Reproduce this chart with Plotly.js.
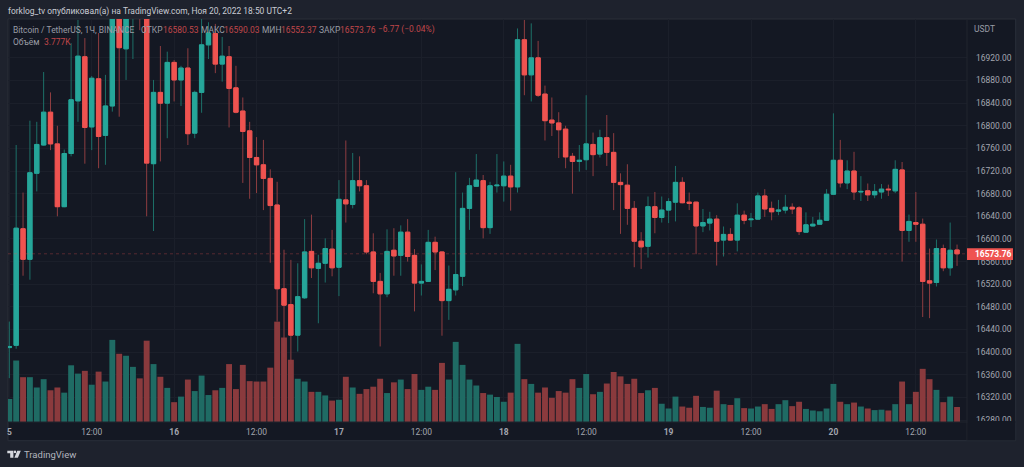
<!DOCTYPE html>
<html><head><meta charset="utf-8">
<script src="https://cdn.plot.ly/plotly-3.0.1.min.js"></script>
<style>html,body{margin:0;padding:0;background:#1e222d;overflow:hidden}#c{width:1024px;height:467px}</style>
</head><body><div id="c"></div>
<script>
const open=[16408,16412,16618,16564,16716,16766,16824,16768,16657,16751,
16844,16922,16798,16883,16783,16835,17000,16936,17010,17040,
17030,16733,16859,16840,16912,16881,16902,16787,16859,16943,
16963,16909,16922,16867,16826,16791,16744,16731,16707,16660,
16512,16484,16430,16496,16578,16548,16557,16582,16550,16669,
16661,16703,16694,16577,16525,16503,16580,16571,16612,16571,
16522,16525,16594,16577,16491,16510,16534,16654,16693,16703,
16620,16694,16694,16711,16692,16952,16890,16920,16856,16810,
16805,16794,16746,16737,16740,16767,16750,16779,16753,16700,
16695,16654,16596,16587,16657,16638,16651,16665,16700,16665,
16665,16623,16628,16635,16598,16608,16598,16642,16634,16635,
16676,16654,16649,16651,16656,16655,16612,16623,16626,16633,
16679,16739,16699,16720,16683,16685,16678,16683,16688,16685,
16722,16615,16629,16626,16526,16523,16583,16549,16580.53];
const close=[16410,16619,16564,16717,16767,16824,16768,16657,16751,16846,
16923,16797,16884,16781,16835,17000,16938,17000,17040,17020,
16734,16859,16840,16912,16881,16902,16786,16859,16943,16964,
16909,16923,16866,16824,16790,16744,16731,16707,16659,16512,
16483,16430,16498,16577,16549,16557,16583,16549,16670,16662,
16703,16694,16577,16525,16503,16578,16570,16612,16569,16522,
16525,16594,16577,16491,16511,16537,16654,16694,16704,16620,
16694,16695,16711,16692,16952,16890,16920,16854,16809,16805,
16793,16745,16737,16739,16768,16749,16779,16753,16700,16696,
16654,16596,16586,16657,16638,16651,16666,16700,16664,16663,
16623,16629,16635,16596,16608,16598,16642,16633,16635,16676,
16653,16648,16651,16656,16653,16613,16625,16626,16633,16679,
16739,16699,16720,16683,16684,16678,16684,16688,16687,16723,
16615,16631,16626,16525,16522,16583,16549,16580,16573.76];
const high=[16454,16766,16682,16809,16807,16895,16859,16800,16758,16946,
16987,16955,16888,16964,16890,17010,17020,17020,17060,17060,
17060,16881,16941,16931,16916,16906,16937,16862,16990,16983,
16980,16957,16941,16906,16850,16807,16780,16775,16723,16701,
16581,16563,16557,16635,16643,16572,16601,16616,16704,16774,
16752,16746,16704,16610,16540,16617,16619,16624,16635,16582,
16555,16616,16604,16578,16553,16718,16682,16708,16750,16713,
16701,16750,16737,16731,16972,16987,16981,16950,16871,16850,
16824,16800,16752,16766,16854,16788,16793,16819,16787,16716,
16732,16667,16612,16675,16683,16675,16672,16729,16709,16682,
16666,16653,16648,16642,16622,16619,16663,16650,16646,16682,
16688,16666,16669,16678,16663,16658,16647,16639,16647,16688,
16822,16775,16739,16754,16711,16698,16697,16697,16696,16739,
16736,16643,16683,16636,16583,16599,16590,16629,16590.03];
const low=[16354,16406,16535,16528,16684,16765,16757,16640,16656,16746,
16807,16733,16757,16725,16731,16825,16816,16881,16918,16969,
16640,16614,16737,16778,16843,16835,16766,16778,16823,16918,
16893,16878,16797,16822,16699,16671,16681,16651,16558,16454,
16390,16379,16401,16494,16531,16451,16523,16534,16499,16629,
16654,16684,16573,16504,16410,16497,16535,16535,16560,16472,
16500,16524,16545,16429,16457,16500,16517,16616,16692,16601,
16609,16682,16666,16650,16682,16854,16843,16851,16774,16782,
16743,16725,16680,16719,16722,16711,16744,16729,16651,16609,
16625,16550,16547,16567,16610,16629,16628,16631,16663,16651,
16573,16612,16615,16553,16569,16597,16578,16626,16621,16634,
16639,16633,16642,16645,16644,16607,16611,16622,16625,16632,
16678,16691,16688,16669,16667,16667,16672,16671,16676,16681,
16560,16595,16595,16462,16460,16516,16543,16535,16552.37];
const volumeK=[5.8,15.5,11.3,11.3,8.7,10.8,8.0,8.7,7.4,14.3,
12.2,12.9,9.4,12.7,10.2,20.7,17.2,16.7,13.9,11.0,
20.5,14.6,11.4,8.6,5.0,6.4,10.7,7.8,11.7,6.8,
8.0,8.6,14.6,8.3,14.4,10.3,10.2,10.2,13.7,25.3,
21.3,15.7,10.9,10.2,7.6,7.6,6.7,5.4,5.6,11.4,
8.7,7.1,8.3,8.9,10.9,7.3,10.0,10.7,8.3,12.1,
8.1,8.9,8.1,14.9,10.7,20.2,14.4,10.7,9.2,7.3,
6.9,6.3,5.1,7.4,19.7,10.8,9.6,7.4,8.7,6.1,
7.8,7.4,10.8,8.6,12.1,7.0,7.6,9.7,12.6,11.5,
9.6,10.9,7.3,8.0,8.6,4.6,3.4,6.4,3.9,3.6,
6.6,3.8,3.6,7.9,4.5,4.3,6.0,3.5,3.4,3.9,
4.5,3.3,4.5,5.5,4.0,5.1,3.3,2.9,2.7,3.4,
9.6,5.1,4.5,4.9,3.9,3.4,3.0,3.1,2.9,4.5,
10.2,4.5,7.6,13.4,10.8,8.1,5.0,6.4,3.777];
const xTickHours=[0,12,24,36,48,60,72,84,96,108,120,132];
const xTickLabels=["<b>5</b>","12:00","<b>16</b>","12:00","<b>17</b>","12:00","<b>18</b>","12:00","<b>19</b>","12:00","<b>20</b>","12:00"];
const priceTicks=[16280,16320,16360,16400,16440,16480,16520,16560,16600,16640,16680,16720,16760,16800,16840,16880,16920];
const lastPrice=16573.76;

const UP="#26a69a",DOWN="#ef5350",UPW="#1d7068",DOWNW="#8e3d40",UPV="#1f6b64",DOWNV="#8a3a3d";
const PANE="#141823",BG="#1e222d",FONT="Roboto, 'Open Sans', sans-serif",SIZE=8.45;
const hours=open.map((_,i)=>i);
const L=8,R=967.3,T=19,B=422.3;
const px=x=>(x-L)/(R-L), py=y=>(B-y)/(B-T);
function txt(x,y,text,color,size){return {xref:'paper',yref:'paper',x:px(x),y:py(y),xanchor:'left',yanchor:'middle',
  text,showarrow:false,borderpad:0,borderwidth:0,font:{family:FONT,size:size||SIZE,color}};}
function rect(x0,y0,x1,y1,fill,layer,line){return {type:'rect',xref:'paper',yref:'paper',x0:px(x0),x1:px(x1),y0:py(y0),y1:py(y1),
  fillcolor:fill,layer:layer||'below',line:line||{width:0}};}
function poly(pts,fill){return {type:'path',xref:'paper',yref:'paper',layer:'above',fillcolor:fill,line:{width:0},
  path:'M'+pts.map(p=>px(p[0])+','+py(p[1])).join('L')+'Z'};}

const volTrace={type:'bar',x:hours,y:volumeK,yaxis:'y',hoverinfo:'skip',showlegend:false,
  marker:{color:open.map((o,i)=>close[i]>=o?UPV:DOWNV),line:{width:0}}};
const wicks={type:'candlestick',x:hours,open,high,low,close,yaxis:'y2',showlegend:false,hoverinfo:'skip',whiskerwidth:0,
  increasing:{line:{color:UPW,width:1},fillcolor:UPW},decreasing:{line:{color:DOWNW,width:1},fillcolor:DOWNW}};
const bodies={type:'candlestick',x:hours,open,close,yaxis:'y2',showlegend:false,hoverinfo:'skip',whiskerwidth:0,
  high:open.map((o,i)=>Math.max(o,close[i])),low:open.map((o,i)=>Math.min(o,close[i])),
  increasing:{line:{color:UP,width:1},fillcolor:UP},decreasing:{line:{color:DOWN,width:1},fillcolor:DOWN}};

const gray="#9a9da6",red="#c0474a",LOGO="#d5d7dd";
const annotations=[
 txt(8,11,"forklog_tv опубликовал(а) на TradingView.com, Ноя 20, 2022 18:50 UTC+2","#c9ccd4"),
 txt(13,30,"Bitcoin / TetherUS, 1Ч, BINANCE",gray),
 txt(141,30,"ОТКР",gray),txt(163.5,30,"16580.53",red),
 txt(201,30,"МАКС",gray),txt(224,30,"16590.03",red),
 txt(262,30,"МИН",gray),txt(281,30,"16552.37",red),
 txt(319,30,"ЗАКР",gray),txt(340.5,30,"16573.76",red),
 txt(378,30,"−6.77 (−0.04%)",red),
 txt(13,42,"Объём",gray),txt(44,42,"3.777K",red),
 txt(974,29,"USDT",gray),
 txt(975.5,254.3,"<b>16573.76</b>","#ffffff"),
 txt(24,455,"TradingView","#b2b5be",9.5)
];
const shapes=[
 rect(8,19,1016,441,PANE,'below',{color:'#2a2e39',width:1}),
 {type:'line',xref:'paper',yref:'y2',x0:0,x1:1,y0:lastPrice,y1:lastPrice,layer:'above',line:{color:'rgba(239,83,80,0.3)',width:1,dash:'dot'}},
 {type:'line',xref:'paper',yref:'paper',x0:1,x1:1,y0:py(441),y1:1,layer:'above',line:{color:'#20242f',width:1}},
 {type:'line',xref:'paper',yref:'paper',x0:0,x1:px(1016),y0:0,y1:0,layer:'above',line:{color:'#20242f',width:1}},
 rect(968,421.2,1015.5,440.5,PANE,'above'),
 rect(967.3,248.3,1013.3,260.2,DOWN,'above'),
 poly([[7.3,451],[13.4,451],[13.4,458.2],[10.2,458.2],[10.2,453.6],[7.3,453.6]],LOGO),
 poly([[13.9,451],[16,451],[16,453.4],[13.9,453.4]],LOGO),
 poly([[17.2,451],[20.8,451],[17.9,458.2],[14.4,458.2]],LOGO)
];
const layout={
 width:1024,height:467,paper_bgcolor:BG,plot_bgcolor:PANE,showlegend:false,
 margin:{l:L,r:1024-R,t:T,b:467-B,pad:0},autosize:false,
 boxgap:0.37,boxgroupgap:0,bargap:0.14,
 xaxis:{range:[-0.19,139.45],tickmode:'array',tickvals:xTickHours,ticktext:xTickLabels,showline:false,zeroline:false,
   gridcolor:'#1b1f2a',gridwidth:1,ticks:'outside',ticklen:2,tickcolor:PANE,tickfont:{family:FONT,size:SIZE,color:'#a3a6af'},rangeslider:{visible:false},fixedrange:true},
 yaxis:{range:[0,101.6],visible:false,showgrid:false,zeroline:false,fixedrange:true},
 yaxis2:{range:[16276.5,16988.7],overlaying:'y',side:'right',tickmode:'array',tickvals:priceTicks,tickformat:'.2f',
   gridcolor:'#1b1f2a',gridwidth:1,zeroline:false,showline:false,ticks:'',ticklabelstandoff:8,
   tickfont:{family:FONT,size:SIZE,color:'#a3a6af'},fixedrange:true},
 annotations,shapes,font:{family:FONT}
};
Plotly.newPlot('c',[volTrace,wicks,bodies],layout,{displayModeBar:false,staticPlot:true});
</script></body></html>
